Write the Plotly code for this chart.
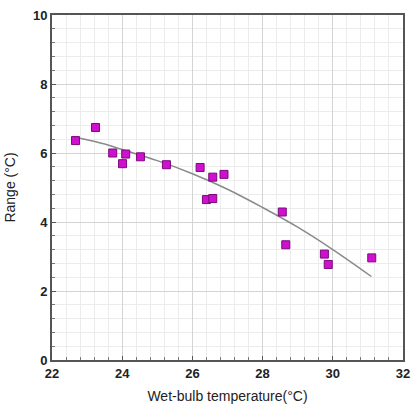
import plotly.graph_objects as go

# Measured range vs. wet-bulb temperature
wet_bulb = [22.67, 23.24, 23.73, 24.01, 24.10, 24.52, 25.26, 26.22, 26.58,
            26.90, 26.40, 26.58, 28.56, 28.66, 29.76, 29.87, 31.11]
range_c = [6.36, 6.74, 6.00, 5.69, 5.97, 5.89, 5.66, 5.58, 5.30,
           5.38, 4.65, 4.68, 4.29, 3.34, 3.07, 2.77, 2.96]

# Trend curve
trend_x = [22.8, 23.5, 24.0, 25.0, 26.0, 27.0, 28.0, 29.0, 30.0, 31.1]
trend_y = [6.43, 6.26, 6.10, 5.78, 5.40, 4.95, 4.42, 3.85, 3.20, 2.42]

x_ticks = [22, 24, 26, 28, 30, 32]
y_ticks = [0, 2, 4, 6, 8, 10]

FONT = "Liberation Sans, Arial, sans-serif"

fig = go.Figure()
fig.add_trace(go.Scatter(
    x=trend_x, y=trend_y, mode="lines",
    line=dict(color="#8a8a8a", width=1.5, shape="spline"),
    showlegend=False, hoverinfo="skip",
))
fig.add_trace(go.Scatter(
    x=wet_bulb, y=range_c, mode="markers",
    marker=dict(symbol="square", size=8, color="#d010d0",
                line=dict(color="#7a0a7a", width=1)),
    showlegend=False,
))

axis_common = dict(
    showline=True, linecolor="#555555", linewidth=2, mirror=True,
    showgrid=True, gridcolor="#d4d4d4", gridwidth=1,
    ticks="inside", ticklen=4, tickcolor="#555555",
    tickfont=dict(family=FONT, size=13, color="#222222"),
    zeroline=False,
    minor=dict(showgrid=True, gridcolor="#ececec", gridwidth=1,
               ticks="inside", ticklen=3, tickcolor="#777777", dtick=0.4),
)

fig.update_xaxes(
    range=[22, 32], tickvals=x_ticks,
    ticktext=[f"<b>{v}</b>" for v in x_ticks],
    title=dict(text="Wet-bulb temperature(°C)",
               font=dict(family=FONT, size=14, color="#222222"),
               standoff=12),
    **axis_common,
)
fig.update_yaxes(
    range=[0, 10], tickvals=y_ticks,
    ticktext=[f"<b>{v}</b>" for v in y_ticks],
    title=dict(text="Range (°C)",
               font=dict(family=FONT, size=14, color="#222222"),
               standoff=14),
    **axis_common,
)

fig.update_layout(
    width=418, height=411,
    margin=dict(l=52, r=8, t=10, b=51),
    paper_bgcolor="white", plot_bgcolor="white",
)

fig.write_html("out.html")
